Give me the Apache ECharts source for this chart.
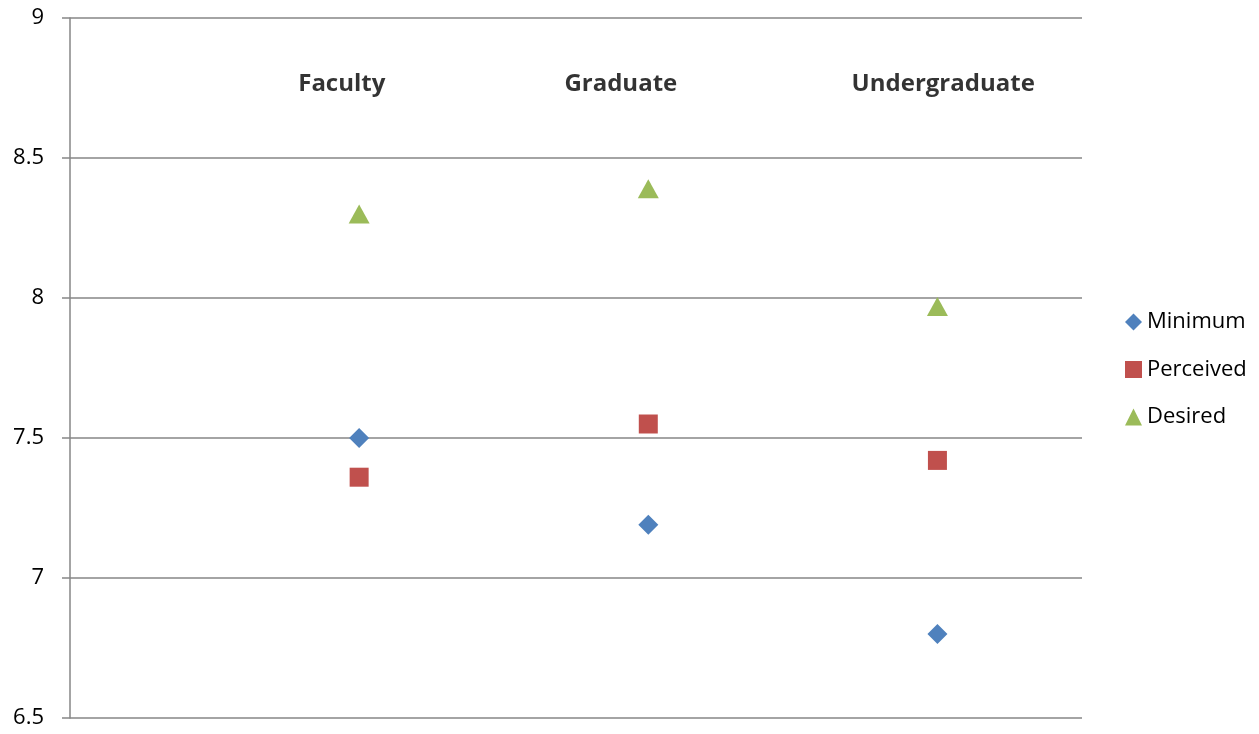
<!DOCTYPE html>
<html>
<head>
<meta charset="utf-8">
<style>
  html, body { margin: 0; padding: 0; background: #fff; }
  #chart { width: 1259px; height: 734px; }
</style>
<script src="https://cdn.jsdelivr.net/npm/echarts@6/dist/echarts.min.js"></script>
</head>
<body>
<div id="chart"></div>
<script>
// categories sit at x = 1, 2, 3 on a hidden 0..3.5 value axis
var categories = ['Faculty', 'Graduate', 'Undergraduate'];
var catX = [1, 2, 3];
var minimum = [7.5, 7.19, 6.8];
var perceived = [7.36, 7.55, 7.42];
var desired = [8.3, 8.39, 7.97];
// header text positions (x in axis units, y value)
var labelX = [0.94, 1.905, 3.02];
var labelY = 8.762;

var font = '"Open Sans", sans-serif';

function pts(vals) {
  return vals.map(function (v, i) { return [catX[i], v]; });
}

var chart = echarts.init(document.getElementById('chart'));
var option = {
  animation: false,
  grid: { left: 70, top: 18, width: 1012, height: 700 },
  legend: {
    orient: 'vertical',
    left: 1120,
    top: 306,
    itemGap: 25.5,
    itemWidth: 17,
    itemHeight: 17,
    textStyle: { fontFamily: font, fontSize: 22, lineHeight: 22, color: '#000' },
    data: ['Minimum', 'Perceived', 'Desired']
  },
  xAxis: {
    type: 'value',
    min: 0,
    max: 3.5,
    show: false
  },
  yAxis: {
    type: 'value',
    min: 6.5,
    max: 9,
    interval: 0.5,
    axisLine: { show: true, lineStyle: { color: '#868686', width: 1.5 } },
    axisTick: { show: true, length: 8, lineStyle: { color: '#868686', width: 1.5 } },
    axisLabel: { fontFamily: font, fontSize: 22, color: '#000', margin: 26 },
    splitLine: { lineStyle: { color: '#868686', width: 1.5 } }
  },
  series: [
    {
      name: 'Minimum', type: 'scatter', symbol: 'diamond', symbolSize: [20, 20],
      itemStyle: { color: '#4F81BD', opacity: 1 }, data: pts(minimum)
    },
    {
      name: 'Perceived', type: 'scatter', symbol: 'rect', symbolSize: [19, 19],
      itemStyle: { color: '#C0504D', opacity: 1 }, data: pts(perceived)
    },
    {
      name: 'Desired', type: 'scatter', symbol: 'triangle', symbolSize: [21, 19],
      itemStyle: { color: '#9BBB59', opacity: 1 }, data: pts(desired)
    },
    {
      name: 'labels', type: 'scatter', symbolSize: 0, silent: true,
      label: {
        show: true, position: 'inside',
        fontFamily: font, fontSize: 24, fontWeight: 'bold', color: '#000',
        formatter: function (p) { return categories[p.dataIndex]; }
      },
      data: labelX.map(function (x) { return [x, labelY]; })
    }
  ]
};
chart.setOption(option);
</script>
</body>
</html>
